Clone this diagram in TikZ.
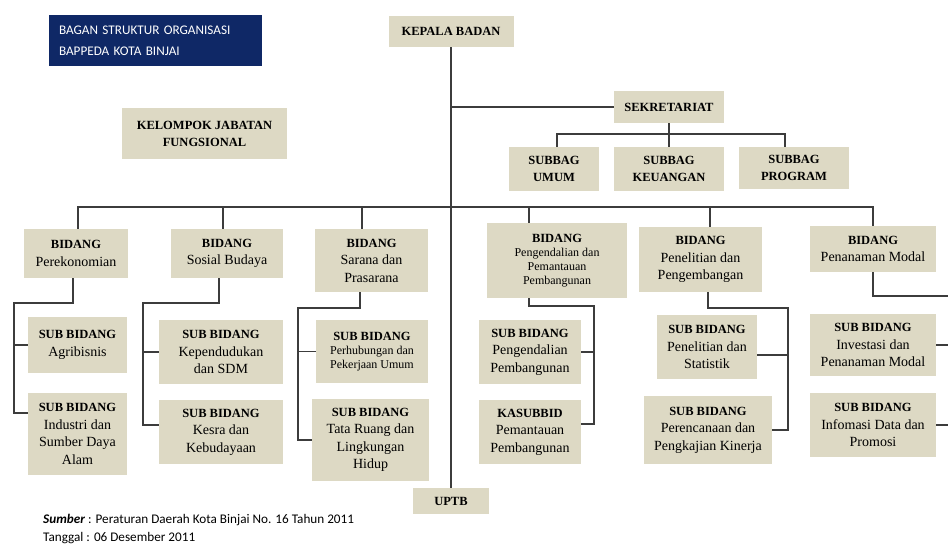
\documentclass[tikz,border=0pt]{standalone}
\usepackage{fontspec}
\setmainfont{Liberation Serif}
\newfontfamily\calibfont{Carlito}
\definecolor{ink}{HTML}{3C3C3C}
\definecolor{tan}{HTML}{DDD9C4}
\definecolor{navy}{HTML}{0F2866}
\newcommand\hd[1]{{\fontsize{12.5}{17}\selectfont\bfseries #1}}

\begin{document}
\begin{tikzpicture}[x=1pt,y=-1pt,
    box/.style={fill=tan,inner sep=2pt,align=center,font=\fontsize{14}{17.5}\selectfont},
    headbox/.style={box,font=\fontsize{12.5}{17}\selectfont\bfseries},
    smallbox/.style={box,font=\fontsize{12}{14}\selectfont},
    sz/.style 2 args={minimum width=#1pt,minimum height=#2pt},
    foot/.style={anchor=west,inner sep=0pt,font=\calibfont\fontsize{13.2}{15}\selectfont},
    link/.style={draw=ink,line width=1.1pt}]
  \useasboundingbox[fill=white] (0,0) rectangle (948,550);

  \node[fill=navy,text=white,align=left,inner xsep=10pt,text width=193pt,minimum height=51pt,
        font=\calibfont\fontsize{13.2}{21}\selectfont] (title) at (155.5,40.5)
        {BAGAN STRUKTUR ORGANISASI\\BAPPEDA KOTA BINJAI};

  % top level
  \node[headbox,sz={125}{31}] (kepala) at (451,31.5) {KEPALA BADAN};
  \node[headbox,sz={165}{51}] (kjf) at (204.5,133.5) {KELOMPOK JABATAN\\FUNGSIONAL};
  \node[headbox,sz={110}{32}] (sekr) at (669,107) {SEKRETARIAT};
  \node[headbox,sz={90}{44}] (sb1) at (554,169) {SUBBAG\\UMUM};
  \node[headbox,sz={110}{44}] (sb2) at (669,169) {SUBBAG\\KEUANGAN};
  \node[headbox,sz={110}{42}] (sb3) at (794,168) {SUBBAG\\PROGRAM};
  \node[headbox,sz={76}{26}] (uptb) at (451,501) {UPTB};

  % bidang
  \node[box,sz={104}{49}] (b1) at (76,253.5) {\hd{BIDANG}\\Perekonomian};
  \node[box,sz={112}{49}] (b2) at (227,253.5) {\hd{BIDANG}\\Sosial Budaya};
  \node[box,sz={113}{63}] (b3) at (371.5,260.5) {\hd{BIDANG}\\Sarana dan\\Prasarana};
  \node[smallbox,sz={140}{75}] (b4) at (557,260.5) {\hd{BIDANG}\\Pengendalian dan\\Pemantauan\\Pembangunan};
  \node[box,sz={123}{65}] (b5) at (700.5,259.5) {\hd{BIDANG}\\Penelitian dan\\Pengembangan};
  \node[box,sz={126}{46}] (b6) at (873,249) {\hd{BIDANG}\\Penanaman Modal};

  % sub bidang
  \node[box,sz={99}{56}] (s11) at (77.5,345) {\hd{SUB BIDANG}\\Agribisnis};
  \node[box,sz={99}{82}] (s12) at (77.5,434) {\hd{SUB BIDANG}\\Industri dan\\Sumber Daya\\Alam};
  \node[box,sz={124}{64}] (s21) at (221,352) {\hd{SUB BIDANG}\\Kependudukan\\dan SDM};
  \node[box,sz={124}{64}] (s22) at (221,432) {\hd{SUB BIDANG}\\Kesra dan\\Kebudayaan};
  \node[smallbox,sz={112}{63}] (s31) at (372,351.5) {\hd{SUB BIDANG}\\Perhubungan dan\\Pekerjaan Umum};
  \node[box,sz={117}{82}] (s32) at (370.5,440) {\hd{SUB BIDANG}\\Tata Ruang dan\\Lingkungan\\Hidup};
  \node[box,sz={102}{64}] (s41) at (530,352) {\hd{SUB BIDANG}\\Pengendalian\\Pembangunan};
  \node[box,sz={102}{64}] (s42) at (530,432) {\hd{KASUBBID}\\Pemantauan\\Pembangunan};
  \node[box,sz={100}{64}] (s51) at (707,347) {\hd{SUB BIDANG}\\Penelitian dan\\Statistik};
  \node[box,sz={128}{68}] (s52) at (708,430) {\hd{SUB BIDANG}\\Perencanaan dan\\Pengkajian Kinerja};
  \node[box,sz={126}{62}] (s61) at (873,345) {\hd{SUB BIDANG}\\Investasi dan\\Penanaman Modal};
  \node[box,sz={126}{64}] (s62) at (873,425) {\hd{SUB BIDANG}\\Infomasi Data dan\\Promosi};

  % connectors
  \draw[link] (kepala.south) -- (uptb.north);
  \draw[link] (kepala.south |- sekr.west) -- (sekr.west);
  \coordinate (sbar) at (669,134);
  \draw[link] (sekr.south) -- (sbar);
  \draw[link] ([xshift=3pt]sb1.north) |- (sbar) -| ([xshift=-9pt]sb3.north);
  \draw[link] (sbar) -- (sb2.north);

  \coordinate (bus) at (451,207);
  \draw[link] ([xshift=2pt]b1.north) |- (bus) -| (b6.north);
  \foreach \n/\dx in {b2/-4,b3/-9.5,b4/-28,b5/9.5}
    \draw[link] ([xshift=\dx pt]\n.north) -- ([xshift=\dx pt]\n.north |- bus);

  \coordinate (r1) at (14,303);
  \draw[link] ([xshift=-3pt]b1.south) |- (r1) |- ([yshift=21pt]s12.west);
  \draw[link] (r1 |- s11.west) -- (s11.west);
  \coordinate (r2) at (143,303);
  \draw[link] ([xshift=-8pt]b2.south) |- (r2) |- ([yshift=7pt]s22.west);
  \draw[link] (r2 |- s21.west) -- (s21.west);
  \coordinate (r3) at (298,308);
  \draw[link] ([xshift=-11.5pt]b3.south) |- (r3) |- (s32.west);
  \draw[link] (r3 |- s31.west) -- (s31.west);
  \coordinate (r4) at (594,306);
  \draw[link] ([xshift=-28pt]b4.south) |- (r4) |- ([yshift=8pt]s42.east);
  \draw[link] (r4 |- s41.east) -- (s41.east);
  \coordinate (r5) at (788,308);
  \draw[link] ([xshift=7.5pt]b5.south) |- (r5) |- (s52.east);
  \draw[link] ([yshift=-8pt]s51.east) -- +(31,0);
  \coordinate (r6) at (948,296);
  \draw[link] (b6.south) |- (r6);
  \draw[link] (s61.east) -- (r6 |- s61.east);
  \draw[link] (s62.east) -- (r6 |- s62.east);

  \node[foot] (src) at (43,520) {\textbf{\textit{Sumber}} : Peraturan Daerah Kota Binjai No. 16 Tahun 2011};
  \node[foot] (tgl) at (43,538) {Tanggal : 06 Desember 2011};
\end{tikzpicture}
\end{document}
